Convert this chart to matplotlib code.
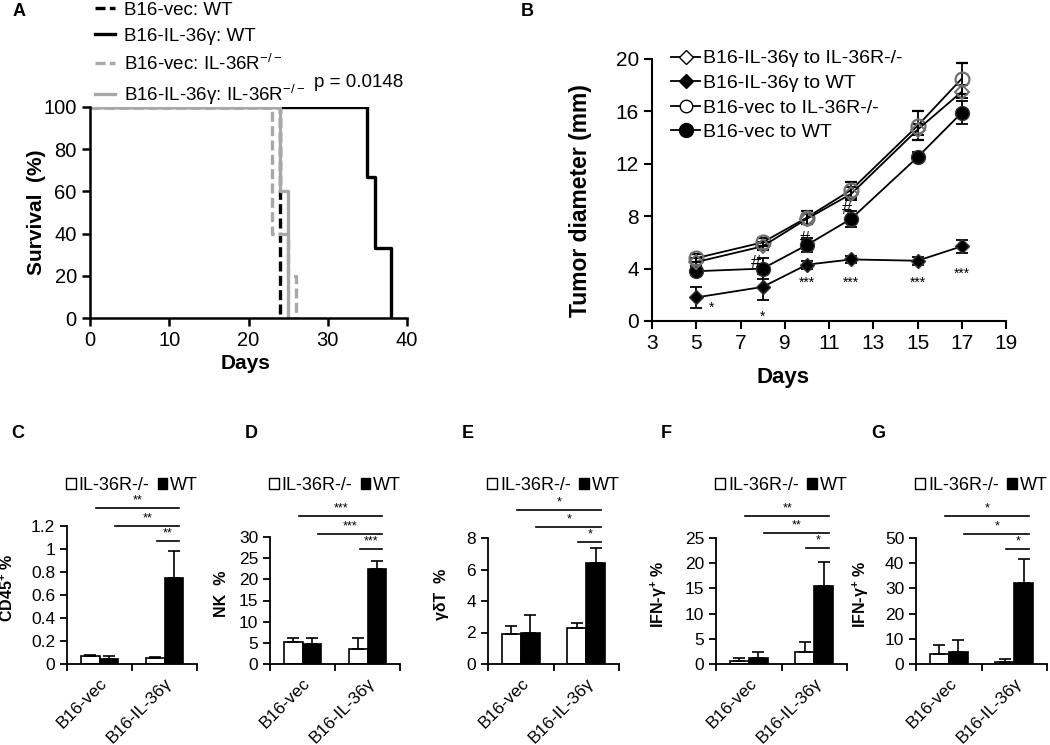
import matplotlib
matplotlib.use("Agg")
import matplotlib.pyplot as plt
from matplotlib.lines import Line2D
from matplotlib.patches import Patch
from matplotlib.ticker import FuncFormatter

plt.rcParams['font.family'] = ['Liberation Sans', 'DejaVu Sans']
plt.rcParams['mathtext.fontset'] = 'custom'
plt.rcParams['mathtext.rm'] = 'Liberation Sans'
plt.rcParams['mathtext.bf'] = 'Liberation Sans:bold'
plt.rcParams['mathtext.it'] = 'Liberation Sans:italic'

# ---- panel A: survival steps (day of death, % surviving after it)
vec_wt_days = [0, 24, 24]
vec_wt_surv = [100, 60, 0]
il36_wt_days = [0, 35, 36, 38]
il36_wt_surv = [100, 66.7, 33.3, 0]
vec_ko_days = [0, 23, 25, 26]
vec_ko_surv = [100, 40, 20, 0]
il36_ko_days = [0, 24, 25]
il36_ko_surv = [100, 60, 0]
p_text = 'p = 0.0148'

# ---- panel B: tumour growth
days = [5, 8, 10, 12, 15, 17]
il36_ko_diam = [4.5, 5.7, 7.8, 9.7, 14.6, 17.5]
il36_ko_err = [0.3, 0.3, 0.4, 0.5, 0.4, 0.5]
il36_wt_diam = [1.8, 2.6, 4.3, 4.7, 4.6, 5.7]
il36_wt_err = [0.8, 1.0, 0.3, 0.3, 0.3, 0.5]
vec_ko_diam = [4.8, 6.0, 7.9, 10.0, 14.9, 18.5]
vec_ko_err = [0.3, 0.3, 0.5, 0.6, 1.1, 1.2]
vec_wt_diam = [3.8, 4.0, 5.8, 7.8, 12.5, 15.9]
vec_wt_err = [0.3, 0.8, 0.5, 0.6, 0.4, 0.9]
mark_day = [5.7, 8.0, 10.0, 12.0, 15.0, 17.0, 7.7, 9.9, 11.8]
mark_y = [1.0, 0.3, 2.9, 2.9, 2.9, 3.6, 4.4, 6.2, 8.5]
mark_txt = ['*', '*', '***', '***', '***', '***', '#', '#', '#']

# ---- panels C-G: bar charts
groups = ['B16-vec', 'B16-IL-36γ']
cd45_ko, cd45_ko_err = [0.07, 0.05], [0.01, 0.01]
cd45_wt, cd45_wt_err = [0.04, 0.75], [0.03, 0.23]
nk_ko, nk_ko_err = [5.3, 3.6], [0.8, 2.5]
nk_wt, nk_wt_err = [4.7, 22.5], [1.4, 1.8]
gdt_ko, gdt_ko_err = [1.9, 2.3], [0.5, 0.3]
gdt_wt, gdt_wt_err = [2.0, 6.4], [1.1, 0.95]
ifnf_ko, ifnf_ko_err = [0.5, 2.3], [0.6, 2.1]
ifnf_wt, ifnf_wt_err = [1.1, 15.4], [1.2, 4.9]
ifng_ko, ifng_ko_err = [4.1, 0.9], [3.6, 1.2]
ifng_wt, ifng_wt_err = [4.7, 32.0], [4.8, 9.7]
cd45_stars = ['**', '**', '**']
nk_stars = ['***', '***', '***']
gdt_stars = ['*', '*', '*']
ifnf_stars = ['**', '**', '*']
ifng_stars = ['*', '*', '*']

W, H = 1050, 745
fig = plt.figure(figsize=(W / 100, H / 100), dpi=100)


def box(l, r, t, b):
    return [l / W, 1 - b / H, (r - l) / W, (b - t) / H]


def style(ax, lw=1.5):
    for s in ['top', 'right']:
        ax.spines[s].set_visible(False)
    for s in ['left', 'bottom']:
        ax.spines[s].set_linewidth(lw)
    ax.tick_params(direction='out', width=lw, color='black')


GREY = '#a8a8a8'

# ---------------- A
axA = fig.add_axes(box(90, 407, 107, 318))
style(axA, 1.8)
axA.step(il36_wt_days, il36_wt_surv, where='post', color='black', lw=2.4)
axA.step(vec_wt_days, vec_wt_surv, where='post', color='black', lw=2.4, ls=(0, (3, 1.3)))
axA.step(vec_ko_days, vec_ko_surv, where='post', color=GREY, lw=2.4, ls=(0, (3, 1.3)))
axA.step(il36_ko_days, il36_ko_surv, where='post', color=GREY, lw=2.4)
axA.set_xlim(0, 40)
axA.set_ylim(0, 100)
axA.set_xticks([0, 10, 20, 30, 40])
axA.set_yticks([0, 20, 40, 60, 80, 100])
axA.tick_params(labelsize=14.5, length=6)
axA.set_xlabel('Days', fontsize=15, fontweight='bold')
axA.xaxis.set_label_coords(0.49, -0.17)
axA.set_ylabel('Survival  (%)', fontsize=15, fontweight='bold')
axA.yaxis.set_label_coords(-0.14, 0.5)
handles = [
    Line2D([], [], color='black', lw=2.4, ls=(0, (3, 1.3))),
    Line2D([], [], color='black', lw=2.4),
    Line2D([], [], color=GREY, lw=2.4, ls=(0, (3, 1.3))),
    Line2D([], [], color=GREY, lw=2.4),
]
labels = ['B16-vec: WT', 'B16-IL-36γ: WT', r'B16-vec: IL-36R$^{-/-}$', r'B16-IL-36γ: IL-36R$^{-/-}$']
axA.legend(handles, labels, loc='lower left', bbox_to_anchor=(0.015, 1.0), frameon=False,
           fontsize=13.5, handlelength=1.1, handletextpad=0.45, labelspacing=0.48,
           borderpad=0, borderaxespad=0)
axA.text(28.3, 111.5, p_text, fontsize=13.5, va='center', clip_on=False)

# ---------------- B
axB = fig.add_axes(box(652, 1006, 59, 321))
style(axB, 1.5)
ebkw = dict(color='black', lw=1.3, capsize=4, elinewidth=1.3, capthick=1.3)
axB.errorbar(days, vec_wt_diam, yerr=vec_wt_err, marker='o', ms=10, mfc='black', mec='#333333',
             label='B16-vec to WT', **ebkw)
axB.errorbar(days, il36_wt_diam, yerr=il36_wt_err, marker='D', ms=7.5, mfc='black', mec='#333333',
             label='B16-IL-36γ to WT', **ebkw)
axB.errorbar(days, vec_ko_diam, yerr=vec_ko_err, marker='o', ms=10, mfc='none', mec='#707070',
             mew=1.6, label='B16-vec to IL-36R-/-', **ebkw)
axB.errorbar(days, il36_ko_diam, yerr=il36_ko_err, marker='D', ms=7.5, mfc='none', mec='#707070',
             mew=1.4, label='B16-IL-36γ to IL-36R-/-', **ebkw)
for d, y, t in zip(mark_day, mark_y, mark_txt):
    axB.text(d, y, t, fontsize=10 if t != '#' else 13, ha='center', va='center')
axB.set_xlim(3, 19)
axB.set_ylim(0, 20)
axB.set_xticks(range(3, 20, 2))
axB.set_yticks(range(0, 21, 4))
axB.tick_params(labelsize=15, length=6)
axB.set_xlabel('Days', fontsize=16, fontweight='bold')
axB.xaxis.set_label_coords(0.37, -0.175)
axB.set_ylabel('Tumor diameter (mm)', fontsize=16.5, fontweight='bold')
axB.yaxis.set_label_coords(-0.17, 0.46)
hB = [
    Line2D([], [], color='black', lw=1.3, marker='D', ms=7, mfc='white', mec='black'),
    Line2D([], [], color='black', lw=1.3, marker='D', ms=7, mfc='black', mec='black'),
    Line2D([], [], color='black', lw=1.3, marker='o', ms=9, mfc='white', mec='black'),
    Line2D([], [], color='black', lw=1.3, marker='o', ms=10, mfc='black', mec='black'),
]
lB = ['B16-IL-36γ to IL-36R-/-', 'B16-IL-36γ to WT', 'B16-vec to IL-36R-/-', 'B16-vec to WT']
axB.legend(hB, lB, loc='upper left', bbox_to_anchor=(0.055, 1.035), frameon=False, fontsize=14,
           handlelength=1.45, handletextpad=0.15, labelspacing=0.36, borderpad=0, borderaxespad=0)

# ---------------- C-G
panels = [
    (67, 197, 526, cd45_ko, cd45_ko_err, cd45_wt, cd45_wt_err, 1.2, 0.2, r'CD45$^\mathbf{+}$ %', cd45_stars, -0.39, [508, 526, 541]),
    (270, 400, 537, nk_ko, nk_ko_err, nk_wt, nk_wt_err, 30, 5, 'NK  %', nk_stars, -0.315, [516, 534, 549]),
    (488, 619, 538, gdt_ko, gdt_ko_err, gdt_wt, gdt_wt_err, 8, 2, 'γδT  %', gdt_stars, -0.30, [510, 527, 542]),
    (716, 847, 538, ifnf_ko, ifnf_ko_err, ifnf_wt, ifnf_wt_err, 25, 5, r'IFN-γ$^\mathbf{+}$ %', ifnf_stars, -0.36, [516, 533, 548]),
    (916, 1047, 538, ifng_ko, ifng_ko_err, ifng_wt, ifng_wt_err, 50, 10, r'IFN-γ$^\mathbf{+}$ %', ifng_stars, -0.34, [516, 534, 549]),
]
BOT = 664
bw = 0.29
line_x0 = [-0.05, 0.24, 0.88]
for (l, r, t, ko, koe, wt, wte, ymax, step, ylab, stars, lx, line_px) in panels:
    ax = fig.add_axes(box(l, r, t, BOT))
    style(ax, 1.3)
    hpx = BOT - t
    x = range(len(groups))
    xk = [i - bw / 2 for i in x]
    xw = [i + bw / 2 for i in x]
    ax.bar(xk, ko, bw, color='white', edgecolor='black', lw=1.2,
           yerr=[[0] * len(koe), koe], error_kw=dict(capsize=4, elinewidth=1.2, capthick=1.2))
    ax.bar(xw, wt, bw, color='black', edgecolor='black', lw=1.2,
           yerr=[[0] * len(wte), wte], error_kw=dict(capsize=4, elinewidth=1.2, capthick=1.2))
    ax.set_xlim(-0.5, 1.5)
    ax.set_ylim(0, ymax)
    n = int(round(ymax / step))
    ax.set_yticks([k * step for k in range(n + 1)])
    ax.yaxis.set_major_formatter(FuncFormatter(lambda v, p: '%g' % round(v, 3)))
    ax.set_xticks([0, 1])
    ax.set_xticklabels(groups, rotation=45, ha='right', rotation_mode='anchor', fontsize=12.5)
    ax.set_xticks([-0.5, 0.5, 1.5], minor=True)
    ax.tick_params(axis='x', which='major', length=0, pad=8)
    ax.tick_params(axis='x', which='minor', length=5, width=1.3)
    ax.tick_params(axis='y', labelsize=12.5, length=5)
    ax.set_ylabel(ylab, fontsize=11.5, fontweight='bold')
    ax.yaxis.set_label_coords(lx, 0.55)
    tr = ax.get_xaxis_transform()
    x1 = 1 + bw - 0.06
    for x0, ypx, s in zip(line_x0, line_px, stars):
        yy = (BOT - ypx) / hpx
        ax.plot([x0, x1], [yy, yy], color='black', lw=1.2, transform=tr, clip_on=False)
        ax.text((x0 + x1) / 2, yy + 0.01, s, transform=tr, ha='center', va='bottom', fontsize=9)
    hl = [Patch(facecolor='white', edgecolor='black', lw=1), Patch(facecolor='black', edgecolor='black')]
    ax.legend(hl, ['IL-36R-/-', 'WT'], loc='center', bbox_to_anchor=(0.5, (BOT - 485) / hpx), ncol=2,
              frameon=False, fontsize=13, handlelength=0.55, handleheight=0.55,
              handletextpad=0.15, columnspacing=0.45, borderpad=0, borderaxespad=0)

# panel letters
for ch, px, py in [('A', 19, 12), ('B', 527, 12), ('C', 18, 434), ('D', 251, 434),
                   ('E', 468, 434), ('F', 666, 434), ('G', 878, 434)]:
    fig.text(px / W, 1 - py / H, ch, fontsize=13, fontweight='bold', ha='center', va='center')

fig.savefig('out.png', dpi=100)
